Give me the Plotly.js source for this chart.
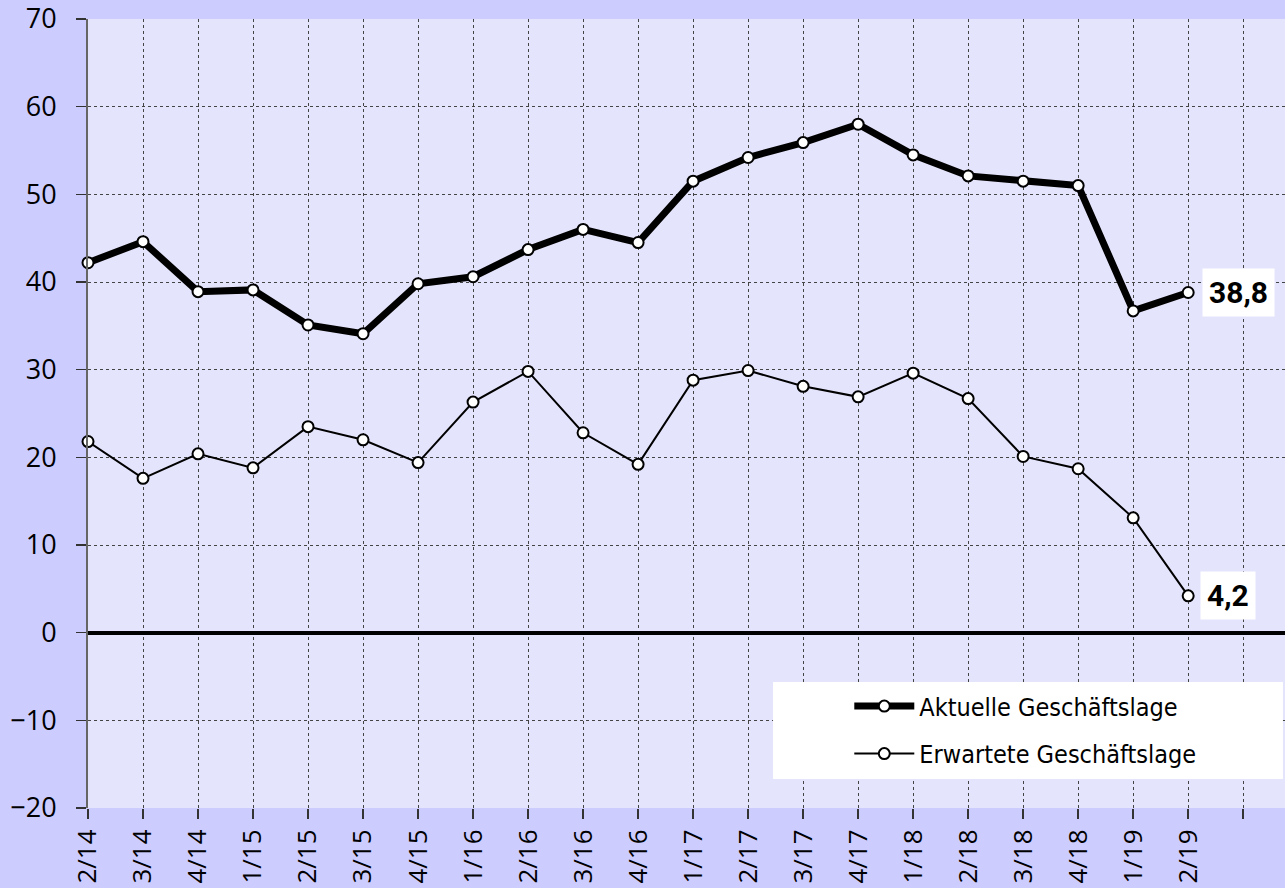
<!DOCTYPE html>
<html>
<head>
<meta charset="utf-8">
<script src="https://cdn.plot.ly/plotly-3.0.1.min.js"></script>
<style>html,body{margin:0;padding:0;background:#ccccff;}#chart{width:1285px;height:888px;}</style>
</head>
<body>
<div id="chart"></div>
<script>
const quarters = ["2/14","3/14","4/14","1/15","2/15","3/15","4/15","1/16","2/16","3/16","4/16","1/17","2/17","3/17","4/17","1/18","2/18","3/18","4/18","1/19","2/19"];
const aktuelle = [42.2,44.6,38.9,39.1,35.1,34.1,39.8,40.6,43.7,46.0,44.5,51.5,54.2,55.9,58.0,54.5,52.1,51.5,51.0,36.7,38.8];
const erwartete = [21.8,17.6,20.4,18.8,23.5,22.0,19.4,26.3,29.8,22.8,19.2,28.8,29.9,28.1,26.9,29.6,26.7,20.1,18.7,13.1,4.2];
const extraCategory = [" "];
const seriesNames = ["Aktuelle Geschäftslage","Erwartete Geschäftslage"];
const lastAktuelleLabel = "38,8";
const lastErwarteteLabel = "4,2";

const yTickFont = {family:"Open Sans, Noto Sans, sans-serif", size:27, color:"#000"};
const xTickFont = {family:"Open Sans, Noto Sans, sans-serif", size:26, color:"#000"};
const legendFont = {family:"Liberation Sans Narrow, DejaVu Sans Condensed, Roboto Condensed, sans-serif", size:25, color:"#000"};

const traces = [
  {x: quarters, y: aktuelle, name: seriesNames[0], type:"scatter", mode:"lines+markers",
   line:{color:"#000", width:7}, marker:{symbol:"circle", size:11, color:"#fff", line:{color:"#000", width:2}},
   legendgroup:"a", cliponaxis:false},
  {x: quarters, y: erwartete, name: seriesNames[1], type:"scatter", mode:"lines+markers",
   line:{color:"#000", width:2}, marker:{symbol:"circle", size:11, color:"#fff", line:{color:"#000", width:2}},
   legendgroup:"b", cliponaxis:false},
  {x: extraCategory, y:[null], type:"scatter", mode:"markers", showlegend:false, hoverinfo:"skip"}
];

const n = quarters.length;
const layout = {
  width:1285, height:888,
  paper_bgcolor:"#ccccff",
  plot_bgcolor:"#e4e4fc",
  margin:{l:88, r:0, t:19, b:80, pad:0},
  showlegend:true,
  xaxis:{type:"category", categoryorder:"array", categoryarray: quarters.concat(extraCategory),
    range:[0, 21.76], showgrid:true, gridcolor:"#444", gridwidth:1, griddash:"dot",
    ticks:"outside", ticklen:10, tickcolor:"#333", tickwidth:1.5, tickangle:-90,
    tickfont:xTickFont, ticklabelstandoff:0, ticklabeloverflow:"allow",
    showline:false, zeroline:false, automargin:false, fixedrange:true},
  yaxis:{range:[-20,70], dtick:10, tick0:0, showgrid:true, gridcolor:"#444", gridwidth:1, griddash:"dot",
    ticks:"outside", ticklen:10, tickcolor:"#333", tickwidth:1.5, tickfont:yTickFont, ticklabelstandoff:14,
    ticklabeloverflow:"allow",
    showline:true, linecolor:"#666", linewidth:2, automargin:false,
    zeroline:true, zerolinecolor:"#000", zerolinewidth:4, fixedrange:true},
  shapes:[
    {type:"rect", xref:"paper", yref:"paper", x0:0.5723, x1:0.9983, y0:0.0368, y1:0.1597,
     fillcolor:"#fff", line:{width:0}, layer:"above"}
  ],
  legend:{x:0.636, y:0.158, xanchor:"left", yanchor:"top", bgcolor:"rgba(0,0,0,0)", borderwidth:0,
    font:legendFont, traceorder:"grouped", tracegroupgap:12, itemwidth:60},
  annotations:[
    {x: quarters[n-1], y: aktuelle[n-1], text:"<b>"+lastAktuelleLabel+"</b>", showarrow:false,
     xanchor:"left", yanchor:"middle", xshift:14, bgcolor:"#fff", borderpad:6,
     font:{family:"Roboto, Liberation Sans, sans-serif", size:30, color:"#000"}},
    {x: quarters[n-1], y: erwartete[n-1], text:"<b>"+lastErwarteteLabel+"</b>", showarrow:false,
     xanchor:"left", yanchor:"middle", xshift:12, bgcolor:"#fff", borderpad:6,
     font:{family:"Roboto, Liberation Sans, sans-serif", size:30, color:"#000"}}
  ]
};
Plotly.newPlot("chart", traces, layout, {staticPlot:true, displayModeBar:false});
</script>
</body>
</html>
